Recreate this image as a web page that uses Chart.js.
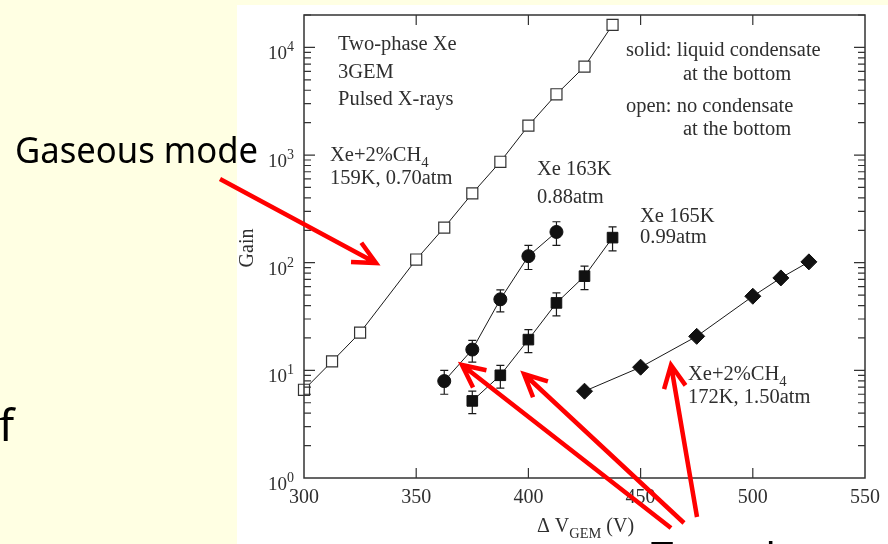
<!DOCTYPE html>
<html>
<head>
<meta charset="utf-8">
<script src="https://cdn.jsdelivr.net/npm/chart.js@4.4.1/dist/chart.umd.min.js"></script>
<style>
  html, body { margin: 0; padding: 0; background: #ffffe3; }
  canvas { display: block; }
</style>
</head>
<body>
<canvas id="grafico" width="888" height="544"></canvas>
<script>
// gaseous mode, Xe+2%CH4 159K 0.70atm (open squares)
const gasV = [300, 312.5, 325, 350, 362.5, 375, 387.5, 400, 412.5, 425, 437.5];
const gasGain = [6.6, 12.1, 22.4, 107, 212, 440, 866, 1874, 3670, 6630, 16200];

// Xe 163K 0.88atm (solid circles)
const circV = [362.5, 375, 387.5, 400, 412.5];
const circGain = [7.95, 15.6, 45.7, 115, 193];
const circHi = [10, 19, 56, 145, 240];
const circLo = [6.0, 11.9, 35, 86.5, 145];

// Xe 165K 0.99atm (solid squares)
const sqV = [375, 387.5, 400, 412.5, 425, 437.5];
const sqGain = [5.2, 9.0, 19.3, 42.3, 75, 171];
const sqHi = [6.4, 11.1, 23.9, 52.4, 92.8, 215];
const sqLo = [3.96, 6.85, 14.6, 32, 56.3, 129];

// Xe+2%CH4 172K 1.50atm (diamonds)
const diaV = [425, 450, 475, 500, 512.5, 525];
const diaGain = [6.4, 10.7, 20.7, 48.8, 72.2, 101.8];

const xTicks = [300, 350, 400, 450, 500, 550];
const yDecadas = [1, 10, 100, 1000, 10000];
const yExpoentes = ['0', '1', '2', '3', '4'];

const serif = '"Liberation Serif", "DejaVu Serif", serif';
const corTexto = '#2f2f2f';
const corLinha = '#1a1a1a';

function pontos(xs, ys) {
  return xs.map((v, i) => ({ x: v, y: ys[i] }));
}

// text with optional subscript pieces: [['Xe+2%CH'], ['4', 'sub']]
function escreve(c, partes, x, y, tam) {
  let px = x;
  for (const p of partes) {
    if (p[1] === 'sub') {
      c.font = (tam * 0.72) + 'px ' + serif;
      c.fillText(p[0], px, y + tam * 0.28);
    } else {
      c.font = tam + 'px ' + serif;
      c.fillText(p[0], px, y);
    }
    px += c.measureText(p[0]).width;
  }
}

function seta(c, x1, y1, x2, y2) {
  const ang = Math.atan2(y2 - y1, x2 - x1);
  const L = 25, abre = 0.45;
  c.beginPath();
  c.moveTo(x1, y1);
  c.lineTo(x2, y2);
  c.moveTo(x2 - L * Math.cos(ang - abre), y2 - L * Math.sin(ang - abre));
  c.lineTo(x2, y2);
  c.lineTo(x2 - L * Math.cos(ang + abre), y2 - L * Math.sin(ang + abre));
  c.stroke();
}

const moldura = {
  id: 'moldura',
  beforeDraw(chart) {
    const c = chart.ctx;
    c.save();
    c.fillStyle = '#ffffe3';
    c.fillRect(0, 0, chart.width, chart.height);
    c.fillStyle = '#ffffff';
    c.fillRect(237, 5, chart.width - 237, chart.height - 5);
    c.restore();
  },
  beforeDatasetsDraw(chart) {
    // error bars
    const c = chart.ctx, xs = chart.scales.x, ys = chart.scales.y;
    c.save();
    c.strokeStyle = corLinha;
    c.lineWidth = 1.2;
    const barras = [[circV, circHi, circLo], [sqV, sqHi, sqLo]];
    for (const [vs, hi, lo] of barras) {
      vs.forEach((v, i) => {
        const px = xs.getPixelForValue(v);
        const ph = ys.getPixelForValue(hi[i]);
        const pl = ys.getPixelForValue(lo[i]);
        c.beginPath();
        c.moveTo(px, ph); c.lineTo(px, pl);
        c.moveTo(px - 4, ph); c.lineTo(px + 4, ph);
        c.moveTo(px - 4, pl); c.lineTo(px + 4, pl);
        c.stroke();
      });
    }
    c.restore();
  },
  afterDraw(chart) {
    const c = chart.ctx, xs = chart.scales.x, ys = chart.scales.y;
    const { left, right, top, bottom } = chart.chartArea;
    c.save();
    c.strokeStyle = '#333';
    c.lineWidth = 1.5;
    c.strokeRect(left, top, right - left, bottom - top);

    // inward ticks
    c.lineWidth = 1.2;
    c.beginPath();
    for (const v of xTicks) {
      const px = xs.getPixelForValue(v);
      if (px <= left + 1 || px >= right - 1) continue;
      c.moveTo(px, bottom); c.lineTo(px, bottom - 10);
      c.moveTo(px, top); c.lineTo(px, top + 10);
    }
    for (const d of yDecadas) {
      for (let m = 1; m <= 9; m++) {
        const val = d * m;
        if (val <= 1 || val > ys.max) continue;
        const py = ys.getPixelForValue(val);
        const len = m === 1 ? 11 : 7;
        c.moveTo(left, py); c.lineTo(left + len, py);
        c.moveTo(right, py); c.lineTo(right - len, py);
      }
    }
    c.stroke();

    // y tick labels 10^n
    c.fillStyle = corTexto;
    c.textBaseline = 'alphabetic';
    yDecadas.forEach((d, i) => {
      const py = ys.getPixelForValue(d);
      c.font = '14px ' + serif;
      const wExp = c.measureText(yExpoentes[i]).width;
      c.textAlign = 'left';
      c.fillText(yExpoentes[i], left - 10 - wExp, py + 4);
      c.font = '19px ' + serif;
      c.textAlign = 'right';
      c.fillText('10', left - 10 - wExp, py + 12);
    });

    // axis titles
    c.textAlign = 'center';
    c.save();
    c.translate(253, 248);
    c.rotate(-Math.PI / 2);
    c.font = '20px ' + serif;
    c.fillText('Gain', 0, 0);
    c.restore();
    c.textAlign = 'left';
    escreve(c, [['\u0394 V'], ['GEM', 'sub'], [' (V)']], 537, 532, 20);

    // notes
    const t = 20.5;
    escreve(c, [['Two-phase Xe']], 338, 50, t);
    escreve(c, [['3GEM']], 338, 78, t);
    escreve(c, [['Pulsed X-rays']], 338, 105, t);
    escreve(c, [['Xe+2%CH'], ['4', 'sub']], 330, 161, t);
    escreve(c, [['159K, 0.70atm']], 330, 184, t);
    escreve(c, [['Xe 163K']], 537, 175, t);
    escreve(c, [['0.88atm']], 537, 203, t);
    escreve(c, [['Xe 165K']], 640, 222, t);
    escreve(c, [['0.99atm']], 640, 243, t);
    escreve(c, [['solid: liquid condensate']], 626, 56, t);
    escreve(c, [['at the bottom']], 683, 80, t);
    escreve(c, [['open: no condensate']], 626, 112, t);
    escreve(c, [['at the bottom']], 683, 135, t);
    escreve(c, [['Xe+2%CH'], ['4', 'sub']], 688, 380, t);
    escreve(c, [['172K, 1.50atm']], 688, 403, t);

    // slide overlay: labels and red arrows
    c.fillStyle = '#000';
    c.font = '37px "Noto Sans", sans-serif';
    const w = c.measureText('Gaseous mode').width;
    c.save();
    c.translate(15, 163);
    c.scale(243 / w, 1);
    c.fillText('Gaseous mode', 0, 0);
    c.restore();
    c.font = '44px "Noto Sans", sans-serif';
    c.fillText('f', -1, 441);
    c.font = '40px "Noto Sans", sans-serif';
    c.fillText('Two-phase', 651, 571);

    c.strokeStyle = '#ff0000';
    c.lineWidth = 4.5;
    c.lineCap = 'butt';
    c.lineJoin = 'miter';
    seta(c, 220, 179, 376, 263);
    seta(c, 671, 528, 462, 365);
    seta(c, 684, 523, 524, 374);
    seta(c, 697, 517, 671, 365);
    c.restore();
  }
};

const ctx = document.getElementById('grafico');

new Chart(ctx, {
  type: 'scatter',
  data: {
    datasets: [
      {
        label: 'Xe+2%CH4 159K',
        data: pontos(gasV, gasGain),
        showLine: true,
        borderColor: corLinha,
        borderWidth: 1,
        pointStyle: 'rect',
        pointRadius: 7.8,
        pointBackgroundColor: '#ffffff',
        pointBorderColor: '#333',
        pointBorderWidth: 1.2,
        clip: false
      },
      {
        label: 'Xe 163K',
        data: pontos(circV, circGain),
        showLine: true,
        borderColor: corLinha,
        borderWidth: 1,
        pointStyle: 'circle',
        pointRadius: 6.5,
        pointBackgroundColor: '#111',
        pointBorderColor: '#111',
        pointBorderWidth: 1,
        clip: false
      },
      {
        label: 'Xe 165K',
        data: pontos(sqV, sqGain),
        showLine: true,
        borderColor: corLinha,
        borderWidth: 1,
        pointStyle: 'rect',
        pointRadius: 7.5,
        pointBackgroundColor: '#111',
        pointBorderColor: '#111',
        pointBorderWidth: 1,
        clip: false
      },
      {
        label: 'Xe+2%CH4 172K',
        data: pontos(diaV, diaGain),
        showLine: true,
        borderColor: corLinha,
        borderWidth: 1,
        pointStyle: 'rectRot',
        pointRadius: 8,
        pointBackgroundColor: '#111',
        pointBorderColor: '#111',
        pointBorderWidth: 1,
        clip: false
      }
    ]
  },
  options: {
    responsive: false,
    animation: false,
    layout: { padding: { left: 237, top: 15, right: 17, bottom: 0 } },
    plugins: {
      legend: { display: false },
      tooltip: { enabled: false }
    },
    scales: {
      x: {
        type: 'linear',
        min: 300,
        max: 550,
        grid: { display: false, drawTicks: false },
        border: { display: false },
        ticks: {
          stepSize: 50,
          autoSkip: false,
          maxRotation: 0,
          padding: 8,
          color: corTexto,
          font: { family: serif, size: 20 }
        },
        afterFit(scale) { scale.height = 66; }
      },
      y: {
        type: 'logarithmic',
        min: 1,
        max: 20000,
        grid: { display: false, drawTicks: false },
        border: { display: false },
        ticks: { display: false },
        afterFit(scale) { scale.width = 67; }
      }
    }
  },
  plugins: [moldura]
});
</script>
</body>
</html>
